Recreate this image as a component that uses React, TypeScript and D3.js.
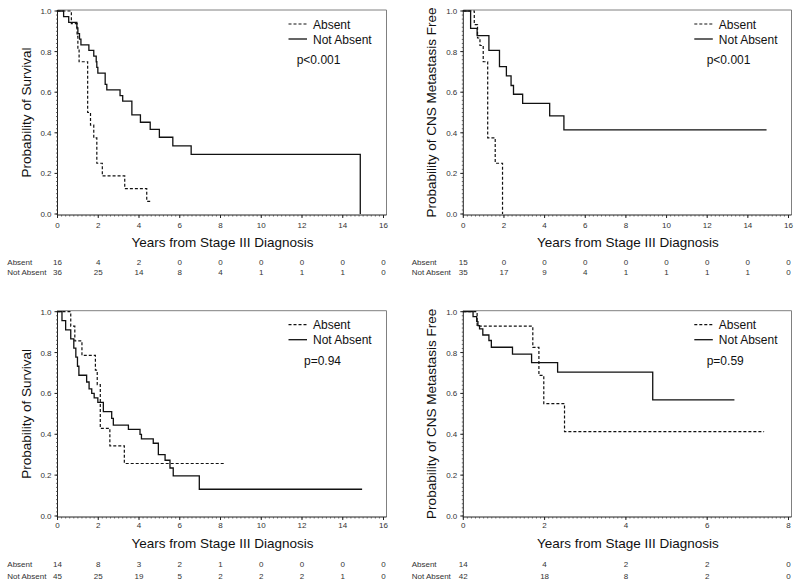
import React from "react";
import * as d3 from "d3";

// ---------- Panel A: Survival (top-left) ----------
const aAbsentTime = [0.68, 0.96, 1.0, 1.06, 1.48, 1.62, 1.78, 1.93, 2.2, 3.3, 4.38];
const aAbsentSurv = [0.9375, 0.875, 0.8125, 0.75, 0.5, 0.4375, 0.375, 0.25, 0.1875, 0.125, 0.0625];
const aAbsentEnd = 4.62;
const aNotTime = [0.3, 0.55, 0.95, 1.0, 1.08, 1.15, 1.54, 1.78, 1.9, 1.93, 1.98, 2.34, 2.42, 3.07, 3.2, 3.65, 4.07, 4.55, 5.0, 5.66, 6.56, 14.86];
const aNotSurv = [0.972, 0.944, 0.917, 0.889, 0.861, 0.833, 0.806, 0.778, 0.75, 0.722, 0.694, 0.639, 0.611, 0.583, 0.556, 0.488, 0.452, 0.417, 0.378, 0.336, 0.294, 0];
const aNotEnd = 14.86;
const aRiskAbsent = [16, 4, 2, 0, 0, 0, 0, 0, 0];
const aRiskNot = [36, 25, 14, 8, 4, 1, 1, 1, 0];

// ---------- Panel B: CNS metastasis free (top-right) ----------
const bAbsentTime = [0.54, 0.7, 0.82, 0.98, 1.2, 1.57, 1.93];
const bAbsentSurv = [0.933, 0.867, 0.83, 0.75, 0.375, 0.25, 0];
const bAbsentEnd = 1.93;
const bNotTime = [0.36, 0.68, 1.26, 1.78, 2.12, 2.35, 2.47, 2.92, 4.25, 4.95];
const bNotSurv = [0.914, 0.879, 0.806, 0.726, 0.68, 0.633, 0.59, 0.545, 0.483, 0.414];
const bNotEnd = 14.92;
const bRiskAbsent = [15, 0, 0, 0, 0, 0, 0, 0, 0];
const bRiskNot = [35, 17, 9, 4, 1, 1, 1, 1, 0];

// ---------- Panel C: Survival (bottom-left) ----------
const cAbsentTime = [0.65, 0.85, 1.2, 1.86, 1.95, 2.1, 2.57, 3.28];
const cAbsentSurv = [0.929, 0.857, 0.786, 0.714, 0.643, 0.429, 0.343, 0.257];
const cAbsentEnd = 8.2;
const cNotTime = [0.22, 0.4, 0.65, 0.8, 0.9, 0.98, 1.05, 1.43, 1.55, 1.68, 1.8, 1.98, 2.25, 2.66, 2.74, 3.48, 4.05, 4.12, 4.7, 4.95, 5.28, 5.52, 5.68, 6.96];
const cNotSurv = [0.956, 0.911, 0.867, 0.822, 0.778, 0.733, 0.689, 0.656, 0.622, 0.6, 0.578, 0.556, 0.511, 0.478, 0.445, 0.424, 0.4, 0.378, 0.356, 0.3, 0.273, 0.235, 0.196, 0.131];
const cNotEnd = 14.95;
const cRiskAbsent = [14, 8, 3, 2, 1, 0, 0, 0, 0];
const cRiskNot = [45, 25, 19, 5, 2, 2, 2, 1, 0];

// ---------- Panel D: CNS metastasis free (bottom-right) ----------
const dAbsentTime = [0.34, 1.71, 1.86, 1.98, 2.49];
const dAbsentSurv = [0.929, 0.825, 0.688, 0.55, 0.413];
const dAbsentEnd = 7.4;
const dNotTime = [0.24, 0.33, 0.36, 0.4, 0.48, 0.63, 0.69, 1.21, 1.68, 2.32, 4.66];
const dNotSurv = [0.976, 0.951, 0.932, 0.916, 0.886, 0.859, 0.826, 0.792, 0.751, 0.704, 0.568];
const dNotEnd = 6.67;
const dRiskAbsent = [14, 4, 2, 2, 0];
const dRiskNot = [42, 18, 8, 2, 0];

// ---------- Text ----------
const groupLabels = ["Absent", "Not Absent"];
const xTitle = "Years from Stage III Diagnosis";
const yTitleSurv = "Probability of Survival";
const yTitleCns = "Probability of CNS Metastasis Free";
const yTicks = [0, 0.2, 0.4, 0.6, 0.8, 1.0];
const xTicksLong = [0, 2, 4, 6, 8, 10, 12, 14, 16];
const xTicksShort = [0, 2, 4, 6, 8];

// ---------- Layout (not data) ----------
const COLS = [
  { x0: 57.5, x1: 383.5, labelX: 7.3 },
  { x0: 463.3, x1: 788.5, labelX: 411.7 },
];
const ROWS = [
  { yTop: 11, yBot: 214, tickBase: 228, titleBase: 247, risk: [265, 275] },
  { yTop: 311.7, yBot: 516, tickBase: 528, titleBase: 548, risk: [566.5, 579] },
];

const FONT = "'Liberation Sans', Arial, Helvetica, sans-serif";

function mkPts(t: number[], s: number[], end: number): [number, number][] {
  const pts: [number, number][] = [[0, 1]];
  t.forEach((v, i) => pts.push([v, s[i]]));
  const last = pts[pts.length - 1];
  if (end > last[0]) pts.push([end, last[1]]);
  return pts;
}

const panels = [
  {
    col: 0, row: 0, xMax: 16, xTicks: xTicksLong, minorStep: 0.2, yTitle: yTitleSurv,
    absent: mkPts(aAbsentTime, aAbsentSurv, aAbsentEnd), not: mkPts(aNotTime, aNotSurv, aNotEnd),
    riskA: aRiskAbsent, riskN: aRiskNot, p: "p<0.001", pDx: 239.2,
  },
  {
    col: 1, row: 0, xMax: 16, xTicks: xTicksLong, minorStep: 0.2, yTitle: yTitleCns,
    absent: mkPts(bAbsentTime, bAbsentSurv, bAbsentEnd), not: mkPts(bNotTime, bNotSurv, bNotEnd),
    riskA: bRiskAbsent, riskN: bRiskNot, p: "p<0.001", pDx: 243.4,
  },
  {
    col: 0, row: 1, xMax: 16, xTicks: xTicksLong, minorStep: 0.2, yTitle: yTitleSurv,
    absent: mkPts(cAbsentTime, cAbsentSurv, cAbsentEnd), not: mkPts(cNotTime, cNotSurv, cNotEnd),
    riskA: cRiskAbsent, riskN: cRiskNot, p: "p=0.94", pDx: 246.5,
  },
  {
    col: 1, row: 1, xMax: 8, xTicks: xTicksShort, minorStep: 0.1, yTitle: yTitleCns,
    absent: mkPts(dAbsentTime, dAbsentSurv, dAbsentEnd), not: mkPts(dNotTime, dNotSurv, dNotEnd),
    riskA: dRiskAbsent, riskN: dRiskNot, p: "p=0.59", pDx: 243.4,
  },
];

function Panel({ cfg }: { cfg: any }) {
  const C = COLS[cfg.col];
  const R = ROWS[cfg.row];
  const x = d3.scaleLinear().domain([0, cfg.xMax]).range([C.x0, C.x1]);
  const y = d3.scaleLinear().domain([0, 1]).range([R.yBot, R.yTop]);
  const line = d3
    .line<[number, number]>()
    .x((d) => x(d[0]))
    .y((d) => y(d[1]))
    .curve(d3.curveStepAfter);
  const minorX = d3.range(0, cfg.xMax + 1e-9, cfg.minorStep);
  const minorY = d3.range(0, 1.0001, 0.02);
  const axY = R.yBot + 1;
  const frameTop = R.yTop - 1;
  const frameRight = C.x1 + 3;
  const cx = (C.x0 + C.x1) / 2 + 2;
  const cy = (R.yTop + R.yBot) / 2;
  return (
    <g>
      {/* frame top/right */}
      <line x1={C.x0} x2={frameRight} y1={frameTop} y2={frameTop} stroke="#808080" strokeWidth={1} />
      <line x1={frameRight} x2={frameRight} y1={frameTop} y2={axY} stroke="#808080" strokeWidth={1} />
      {/* left axis */}
      <line x1={C.x0} x2={C.x0} y1={frameTop} y2={axY} stroke="#222" strokeWidth={1} />
      {minorY.map((v, i) => (
        <line key={"my" + i} x1={C.x0 - 1.5} x2={C.x0} y1={y(v)} y2={y(v)} stroke="#444" strokeWidth={0.8} />
      ))}
      {yTicks.map((v) => (
        <g key={"yt" + v}>
          <line x1={C.x0 - 3} x2={C.x0} y1={y(v)} y2={y(v)} stroke="#222" strokeWidth={1} />
          <text x={C.x0 - 6} y={y(v) + 3} fontSize={8} textAnchor="end" fill="#333" fontFamily={FONT}>
            {v.toFixed(1)}
          </text>
        </g>
      ))}
      {/* bottom axis */}
      <line x1={C.x0} x2={frameRight} y1={axY} y2={axY} stroke="#222" strokeWidth={1} />
      {minorX.map((v, i) => (
        <line key={"mx" + i} x1={x(v)} x2={x(v)} y1={axY} y2={axY + 1.5} stroke="#444" strokeWidth={0.8} />
      ))}
      {cfg.xTicks.map((v: number) => (
        <g key={"xt" + v}>
          <line x1={x(v)} x2={x(v)} y1={axY} y2={axY + 3} stroke="#222" strokeWidth={1} />
          <text x={x(v)} y={R.tickBase} fontSize={8} textAnchor="middle" fill="#333" fontFamily={FONT}>
            {v}
          </text>
        </g>
      ))}
      {/* titles */}
      <text x={cx} y={R.titleBase} fontSize={13.5} textAnchor="middle" fill="#111" fontFamily={FONT}>
        {xTitle}
      </text>
      <text
        transform={`translate(${C.x0 - 27},${cy}) rotate(-90)`}
        fontSize={13.5}
        textAnchor="middle"
        fill="#111"
        fontFamily={FONT}
      >
        {cfg.yTitle}
      </text>
      {/* curves */}
      <path d={line(cfg.not) || ""} fill="none" stroke="#111" strokeWidth={1.3} />
      <path d={line(cfg.absent) || ""} fill="none" stroke="#111" strokeWidth={1.2} strokeDasharray="3,2" />
      {/* legend */}
      <line x1={C.x0 + 231} x2={C.x0 + 249.5} y1={R.yTop + 13} y2={R.yTop + 13} stroke="#111" strokeWidth={1.2} strokeDasharray="3,2" />
      <line x1={C.x0 + 231} x2={C.x0 + 249.5} y1={R.yTop + 28} y2={R.yTop + 28} stroke="#111" strokeWidth={1.3} />
      <text x={C.x0 + 255.5} y={R.yTop + 17.5} fontSize={12} fill="#111" fontFamily={FONT}>
        {groupLabels[0]}
      </text>
      <text x={C.x0 + 255.5} y={R.yTop + 32.5} fontSize={12} fill="#111" fontFamily={FONT}>
        {groupLabels[1]}
      </text>
      <text x={C.x0 + cfg.pDx} y={R.yTop + 53} fontSize={12} fill="#111" fontFamily={FONT}>
        {cfg.p}
      </text>
      {/* number at risk */}
      {[cfg.riskA, cfg.riskN].map((row: number[], ri: number) => (
        <g key={"r" + ri}>
          <text x={C.labelX} y={R.risk[ri]} fontSize={8} fill="#333" fontFamily={FONT}>
            {groupLabels[ri]}
          </text>
          {row.map((v, i) => (
            <text key={i} x={x(cfg.xTicks[i])} y={R.risk[ri]} fontSize={8} textAnchor="middle" fill="#333" fontFamily={FONT}>
              {v}
            </text>
          ))}
        </g>
      ))}
    </g>
  );
}

export default function App() {
  return (
    <svg
      width={800}
      height={585}
      viewBox="0 0 800 585"
      style={{ position: "absolute", left: 0, top: 0, background: "#fff" }}
    >
      <rect x={0} y={0} width={800} height={585} fill="#fff" />
      {panels.map((p, i) => (
        <Panel key={i} cfg={p} />
      ))}
    </svg>
  );
}
